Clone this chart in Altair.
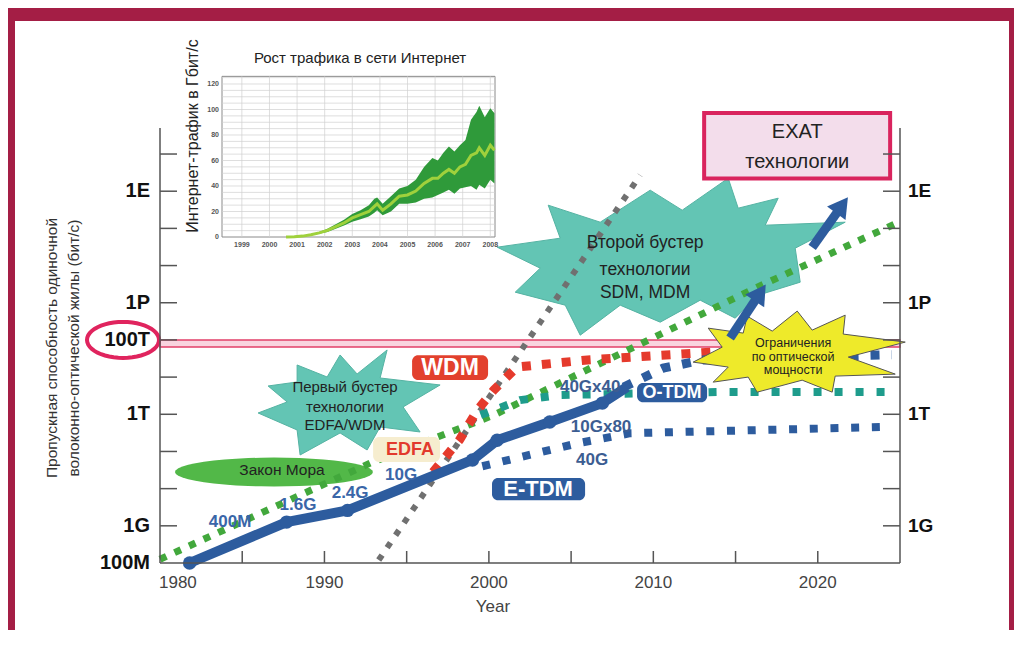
import altair as alt
import pandas as pd

# ---------------- data ----------------
MOORE_YEAR = [1980.0, 1992.8, 2000.3, 2016.3, 2024.8]
MOORE_BPS = [1.26e8, 4.9e10, 9.5e11, 2.6e15, 1.38e17]

ETDM_YEAR = [1981.8, 1987.7, 1991.4, 1999.0, 2000.5, 2003.7, 2006.9, 2008.4]
ETDM_BPS = [1.0e8, 1.26e9, 2.6e9, 5.9e10, 2.0e11, 6.2e11, 2.0e12, 5.4e12]
ETDM_NODE_YEAR = [1981.8, 1987.7, 1991.4, 1999.0, 2000.5, 2003.7, 2006.9]
ETDM_NODE_BPS = [1.0e8, 1.26e9, 2.6e9, 5.9e10, 2.0e11, 6.2e11, 2.0e12]

TDM_YEAR = [1999.6, 2005.5, 2008.6, 2024.5]
TDM_BPS = [4.0e10, 1.7e11, 3.1e11, 4.6e11]

OTDM_YEAR = [2008.2, 2010.6, 2013.0, 2024.5]
OTDM_BPS = [5.4e12, 1.74e13, 2.9e13, 4.0e13]

TEAL_YEAR = [1999.5, 2001.9, 2004.3, 2014.1, 2024.5]
TEAL_BPS = [9.5e11, 2.4e12, 3.3e12, 4.0e12, 4.0e12]

WDM_YEAR = [1996.6, 1998.2, 1999.3, 2000.3, 2001.7, 2006.0, 2013.6]
WDM_BPS = [2.8e10, 2.0e11, 1.3e12, 4.5e12, 1.86e13, 2.9e13, 4.7e13]

GRAY_YEAR = [1993.3, 2009.2]
GRAY_BPS = [1.2e8, 2.7e18]

ARROW_ID = ["a1", "a1", "a2", "a2"]
ARROW_YEAR = [2014.67, 2016.5, 2019.66, 2021.48]
ARROW_BPS = [1.12e14, 1.86e15, 3.09e16, 4.17e17]
HEAD_YEAR = [2016.5, 2021.48]
HEAD_BPS = [1.86e15, 4.17e17]

BAND_YEAR = [1980, 2025]
BAND_BPS = [6.5e13, 1.0e14]

Y_TICKS = [1e9, 1e10, 1e11, 1e12, 1e13, 1e14, 1e15, 1e16, 1e17, 1e18, 1e19]
Y_LEFT_VALUES = [1e8, 1e9, 1e12, 1e14, 1e15, 1e18]
Y_LEFT_LABELS = ["100M", "1G", "1T", "100T", "1P", "1E"]
Y_RIGHT_VALUES = [1e9, 1e12, 1e15, 1e18]
Y_RIGHT_LABELS = ["1G", "1T", "1P", "1E"]
X_TICKS = [1985, 1990, 1995, 2000, 2005, 2010, 2015, 2020]
X_LABELS = [1980, 1990, 2000, 2010, 2020]

BOLD_TEXT = ["400M", "1.6G", "2.4G", "10G", "40Gx40", "10Gx80", "40G",
             "EDFA", "WDM", "O-TDM", "E-TDM"]
BOLD_YEAR = [1984.26, 1988.39, 1991.56, 1994.66, 2006.16, 2006.82, 2006.28,
             1995.2, 1997.64, 2011.14, 2002.99]
BOLD_BPS = [1.26e9, 3.6e9, 7.6e9, 2.3e10, 5.4e12, 4.6e11, 5.9e10,
            1.1e11, 1.74e13, 3.8e12, 9.8e9]
BOLD_COLOR = ["#3A66A8", "#3A66A8", "#3A66A8", "#3A66A8", "#3C5D92", "#3C5D92", "#3C5D92",
              "#E23A2C", "#FFFFFF", "#FFFFFF", "#FFFFFF"]
BOLD_SIZE = [17, 17, 17, 17, 17, 17, 17, 18, 23, 18, 22]

BOX_YEAR0 = [1995.33, 2009.01, 2000.19, 1992.96]
BOX_YEAR1 = [1999.95, 2013.27, 2005.85, 1997.03]
BOX_BPS0 = [8.3e12, 2.1e12, 4.9e9, 5.2e10]
BOX_BPS1 = [3.9e13, 6.9e12, 1.93e10, 2.45e11]
BOX_FILL = ["#E2402D", "#2D5C9E", "#2D5C9E", "#F6EDCF"]

NOTE_TEXT = ["Закон Мора",
             "Первый бустер", "технологии", "EDFA/WDM",
             "Второй бустер", "технологии", "SDM, MDM",
             "Ограничения", "по оптической", "мощности",
             "EXAT", "технологии"]
NOTE_YEAR = [1987.42, 1991.25, 1991.25, 1991.25, 2009.5, 2009.5, 2009.5,
             2018.5, 2018.5, 2018.5, 2018.75, 2018.75]
NOTE_BPS = [3.16e10, 5.4e12, 1.55e12, 5.1e11, 4.0e16, 7.6e15, 1.8e15,
            8.1e13, 3.5e13, 1.55e13, 3.9e19, 6.0e18]
NOTE_SIZE = [15.5, 15, 15, 15, 17.5, 17.5, 17.5, 12.5, 12.5, 12.5, 20, 20]

EXAT_YEAR = [2013.09, 2024.4]
EXAT_BPS = [2.2e18, 1.26e20]

# inset: internet traffic, Gbit/s
INSET_YEAR = [2000.6, 2000.9, 2001.2, 2001.5, 2001.8, 2002.1, 2002.4, 2002.7, 2003.0, 2003.3,
              2003.6, 2003.8, 2003.9, 2004.1, 2004.4, 2004.7, 2005.0, 2005.3, 2005.6, 2005.9,
              2006.1, 2006.3, 2006.5, 2006.7, 2006.9, 2007.1, 2007.3, 2007.5, 2007.6, 2007.8,
              2008.0, 2008.15]
INSET_HIGH = [0, 0.3, 1.0, 2.2, 4, 6.5, 10, 13.5, 18, 21, 25, 30, 31, 26, 32, 38, 40, 45, 55, 62,
              60, 66, 71, 67, 72, 76, 92, 98, 103, 94, 101, 97]
INSET_LOW = [0, 0.1, 0.5, 1.2, 2.5, 4, 6.5, 9, 12, 14, 16, 19, 21, 17, 20, 26, 26, 27, 30, 31,
             33, 35, 37, 34, 38, 39, 40, 37, 41, 38, 45, 42]
INSET_MID = [0, 0.2, 0.7, 1.7, 3.2, 5.2, 8.2, 11, 15, 17.5, 20, 24, 26, 21, 26, 32, 33, 36, 42, 46,
             46, 50, 53, 50, 55, 57, 64, 66, 70, 64, 72, 68]
INSET_X_LABELS = [1999, 2000, 2001, 2002, 2003, 2004, 2005, 2006, 2007, 2008]
INSET_Y_LABELS = [0, 20, 40, 60, 80, 100, 120]
INSET_HGRID = [5, 10, 15, 25, 30, 35, 45, 50, 55, 65, 70, 75, 85, 90, 95, 105, 110, 115, 125]

# ---------------- styles ----------------
NARROW = "Liberation Sans Narrow, Arial Narrow, Liberation Sans, sans-serif"
SANS = "Liberation Sans, Arial, sans-serif"
BLUE = "#2D5C9E"


def poly_path(pts, s):
    return "M" + " L".join(f"{x / s:.3f} {y / s:.3f}" for x, y in pts) + " Z"


def ellipse_path(ry, n=48):
    import math
    pts = [(math.cos(2 * math.pi * k / n), ry * math.sin(2 * math.pi * k / n)) for k in range(n)]
    return "M" + " L".join(f"{x:.3f} {y:.3f}" for x, y in pts) + " Z"


STAR2 = [(-153, -11), (-90, -20), (-102, -53), (-50, -36), (0, -68), (32, -48), (78, -80), (88, -50),
         (128, -60), (115, -33), (195, -36), (145, -10), (150, 24), (108, 37), (85, 60), (50, 42),
         (10, 64), (-30, 47), (-70, 77), (-85, 47), (-135, 34), (-110, 10)]
STAR1 = [(37, -55), (30, -27), (90, -20), (53, 2), (70, 27), (30, 22), (17, 45), (-10, 28), (-50, 50),
         (-53, 25), (-92, 8), (-63, -3), (-82, -19), (-53, -23), (-53, -40), (-23, -28), (-10, -50), (7, -31)]
STAR3 = [(-105, 10), (-76, -5), (-90, -24), (-55, -19), (-51, -36), (-26, -21), (-1, -41), (14, -22),
         (47, -37), (45, -18), (107, -10), (50, 5), (97, 22), (37, 24), (34, 40), (4, 28), (-41, 40),
         (-50, 25), (-85, 30), (-70, 15)]

X = alt.Scale(domain=[1980, 2025], nice=False, zero=False)
Y = alt.Scale(type="log", domain=[1e8, 10 ** 19.7], nice=False)


def XE(f="x"):
    return alt.X(f"{f}:Q", scale=X, axis=None, title=None)


def YE(f="y"):
    return alt.Y(f"{f}:Q", scale=Y, axis=None, title=None)


ONE = pd.DataFrame({"a": [0]})


def series(xs, ys, **extra):
    d = {"x": xs, "y": ys}
    d.update(extra)
    return pd.DataFrame(d)


layers = []
# frame
layers.append(alt.Chart(ONE).mark_rect(fill="white").encode(
    x=alt.value(-145), x2=alt.value(849), y=alt.value(-107), y2=alt.value(512)))
# 100T band
layers.append(alt.Chart(pd.DataFrame({"x": [BAND_YEAR[0]], "x2": [BAND_YEAR[1]],
                                      "y": [BAND_BPS[0]], "y2": [BAND_BPS[1]]}))
              .mark_rect(fill="#F9D4DF", stroke="#E2406A", strokeWidth=1.5)
              .encode(x=XE(), x2="x2:Q", y=YE(), y2="y2:Q"))


# shapes
def shape_layer(x, y, path, size, fill, stroke=None, sw=0):
    kw = dict(shape=path, size=size, filled=True, fill=fill, opacity=1, fillOpacity=1)
    if stroke:
        kw.update(stroke=stroke, strokeWidth=sw)
    else:
        kw.update(strokeWidth=0)
    return alt.Chart(series([x], [y])).mark_point(**kw).encode(x=XE(), y=YE())


layers.append(shape_layer(1986.93, 2.8e10, ellipse_path(0.146), 198 ** 2, "#52B848"))
layers.append(shape_layer(1991.56, 1.78e12, poly_path(STAR1, 100), 200 ** 2, "#63C5B4", "#55B3A3", 1))
layers.append(shape_layer(2009.81, 1.58e16, poly_path(STAR2, 200), 400 ** 2, "#63C5B4", "#55B3A3", 1))


# dotted / solid series
def line(xs, ys, color, width, dash=None):
    kw = dict(color=color, strokeWidth=width)
    if dash:
        kw["strokeDash"] = dash
    return alt.Chart(series(xs, ys)).mark_line(**kw).encode(x=XE(), y=YE())


layers.append(line(GRAY_YEAR, GRAY_BPS, "#707070", 6, [6, 9]))
layers.append(line(MOORE_YEAR, MOORE_BPS, "#42A83C", 7, [7, 9]))
layers.append(line(TEAL_YEAR, TEAL_BPS, "#1E9C8C", 8, [8, 13]))
layers.append(line(WDM_YEAR, WDM_BPS, "#E53A2C", 9, [9, 11]))
layers.append(line(TDM_YEAR, TDM_BPS, BLUE, 8, [8, 12.7]))
layers.append(line(OTDM_YEAR, OTDM_BPS, BLUE, 9, [9, 12]))
layers.append(line(ETDM_YEAR, ETDM_BPS, BLUE, 10))
layers.append(alt.Chart(series(ETDM_NODE_YEAR, ETDM_NODE_BPS)).mark_circle(
    size=180, color=BLUE, opacity=1).encode(x=XE(), y=YE()))

# label boxes
layers.append(alt.Chart(pd.DataFrame({"x": BOX_YEAR0, "x2": BOX_YEAR1, "y": BOX_BPS0,
                                      "y2": BOX_BPS1, "f": BOX_FILL}))
              .mark_rect(cornerRadius=6)
              .encode(x=XE(), x2="x2:Q", y=YE(), y2="y2:Q",
                      fill=alt.Fill("f:N", scale=None)))
# yellow starburst
layers.append(shape_layer(2018.81, 4.7e13, poly_path(STAR3, 110), 220 ** 2, "#EEEA2A", "#555555", 1))
# arrows
layers.append(alt.Chart(series(ARROW_YEAR, ARROW_BPS, id=ARROW_ID)).mark_line(
    color=BLUE, strokeWidth=9).encode(x=XE(), y=YE(), detail="id:N"))
layers.append(alt.Chart(series(HEAD_YEAR[:1], HEAD_BPS[:1])).mark_point(
    shape="triangle-up", size=520, filled=True, color=BLUE, opacity=1, angle=34).encode(x=XE(), y=YE()))
layers.append(alt.Chart(series(HEAD_YEAR[1:], HEAD_BPS[1:])).mark_point(
    shape="triangle-up", size=520, filled=True, color=BLUE, opacity=1, angle=36).encode(x=XE(), y=YE()))
# EXAT box
layers.append(alt.Chart(pd.DataFrame({"x": [EXAT_YEAR[0]], "x2": [EXAT_YEAR[1]],
                                      "y": [EXAT_BPS[0]], "y2": [EXAT_BPS[1]]}))
              .mark_rect(fill="#F3DDEB", stroke="#D9245E", strokeWidth=4)
              .encode(x=XE(), x2="x2:Q", y=YE(), y2="y2:Q"))
# 100T ellipse
layers.append(shape_layer(1977.75, 1e14, ellipse_path(0.5), 72 ** 2, "none", "#E0245E", 4))

# texts
layers.append(alt.Chart(pd.DataFrame({"x": BOLD_YEAR, "y": BOLD_BPS, "t": BOLD_TEXT,
                                      "c": BOLD_COLOR, "s": BOLD_SIZE}))
              .mark_text(font=SANS, fontWeight="bold", baseline="middle")
              .encode(x=XE(), y=YE(), text="t:N", color=alt.Color("c:N", scale=None),
                      size=alt.Size("s:Q", scale=None)))
layers.append(alt.Chart(pd.DataFrame({"x": NOTE_YEAR, "y": NOTE_BPS, "t": NOTE_TEXT, "s": NOTE_SIZE}))
              .mark_text(font=NARROW, baseline="middle", color="#222222")
              .encode(x=XE(), y=YE(), text="t:N", size=alt.Size("s:Q", scale=None)))

# axes (drawn by hand so ticks point inward)
AX = "#555555"
layers.append(alt.Chart(pd.DataFrame({"y": [1e8], "y2": [10 ** 19.7]})).mark_rule(color=AX, strokeWidth=1.5)
              .encode(x=alt.value(0), y=YE(), y2="y2:Q"))
layers.append(alt.Chart(pd.DataFrame({"y": [1e8], "y2": [10 ** 19.7]})).mark_rule(color=AX, strokeWidth=1.5)
              .encode(x=alt.value(740), y=YE(), y2="y2:Q"))
layers.append(alt.Chart(pd.DataFrame({"x": [1980], "x2": [2025]})).mark_rule(color=AX, strokeWidth=1.5)
              .encode(y=alt.value(435), x=XE(), x2="x2:Q"))
ticks = pd.DataFrame({"y": Y_TICKS})
layers.append(alt.Chart(ticks).mark_rule(color=AX, strokeWidth=1.5)
              .encode(y=YE(), x=alt.value(0), x2=alt.value(17)))
layers.append(alt.Chart(ticks).mark_rule(color=AX, strokeWidth=1.5)
              .encode(y=YE(), x=alt.value(723), x2=alt.value(740)))
layers.append(alt.Chart(pd.DataFrame({"x": X_TICKS})).mark_rule(color=AX, strokeWidth=1.5)
              .encode(x=XE(), y=alt.value(423), y2=alt.value(435)))
layers.append(alt.Chart(pd.DataFrame({"y": Y_LEFT_VALUES, "t": Y_LEFT_LABELS}))
              .mark_text(font=SANS, fontWeight="bold", fontSize=20, align="right", baseline="middle",
                         color="#111111")
              .encode(x=alt.value(-10), y=YE(), text="t:N"))
layers.append(alt.Chart(pd.DataFrame({"y": Y_RIGHT_VALUES, "t": Y_RIGHT_LABELS}))
              .mark_text(font=SANS, fontWeight="bold", fontSize=19, align="left", baseline="middle",
                         color="#111111")
              .encode(x=alt.value(748), y=YE(), text="t:N"))
layers.append(alt.Chart(pd.DataFrame({"x": X_LABELS[:1], "t": [str(v) for v in X_LABELS[:1]]}))
              .mark_text(font=SANS, fontSize=17, align="left", baseline="middle", color="#444444", dx=-1)
              .encode(x=XE(), y=alt.value(455), text="t:N"))
layers.append(alt.Chart(pd.DataFrame({"x": X_LABELS[1:], "t": [str(v) for v in X_LABELS[1:]]}))
              .mark_text(font=SANS, fontSize=17, align="center", baseline="middle", color="#444444")
              .encode(x=XE(), y=alt.value(455), text="t:N"))
layers.append(alt.Chart(pd.DataFrame({"x": [2000.25], "t": ["Year"]}))
              .mark_text(font=SANS, fontSize=17, align="center", baseline="middle", color="#444444")
              .encode(x=XE(), y=alt.value(479), text="t:N"))
layers.append(alt.Chart(pd.DataFrame({"t": ["Пропускная способность одиночной",
                                            "волоконно-оптической жилы (бит/с)"],
                                      "px": [-108, -86]}))
              .mark_text(font=NARROW, fontSize=15.5, angle=270, align="center", baseline="middle",
                         color="#333333")
              .encode(x=alt.X("px:Q", scale=None, axis=None), y=alt.value(220), text="t:N"))

main = alt.layer(*layers)

# ---------------- inset ----------------
IX = alt.Scale(domain=[1998.28, 2008.17], range=[62, 335], nice=False, zero=False)
IY = alt.Scale(domain=[0, 126], range=[109, -51.65], nice=False, zero=False)


def IXE(f="x"):
    return alt.X(f"{f}:Q", scale=IX, axis=None, title=None)


def IYE(f="y"):
    return alt.Y(f"{f}:Q", scale=IY, axis=None, title=None)


ins = []
ins.append(alt.Chart(pd.DataFrame({"x": [1998.28], "x2": [2008.17], "y": [0], "y2": [126]}))
           .mark_rect(fill="white", stroke="#8A8A8A", strokeWidth=1)
           .encode(x=IXE(), x2="x2:Q", y=IYE(), y2="y2:Q"))
ins.append(alt.Chart(pd.DataFrame({"y": INSET_HGRID + INSET_Y_LABELS[1:]}))
           .mark_rule(color="#D0D0D0", strokeWidth=0.7)
           .encode(y=IYE(), x=alt.value(62), x2=alt.value(335)))
ins.append(alt.Chart(pd.DataFrame({"x": INSET_X_LABELS}))
           .mark_rule(color="#D0D0D0", strokeWidth=0.7)
           .encode(x=IXE(), y=alt.value(109), y2=alt.value(-51.65)))
idf = pd.DataFrame({"x": INSET_YEAR, "lo": INSET_LOW, "hi": INSET_HIGH, "mid": INSET_MID})
ins.append(alt.Chart(idf).mark_area(color="#2F9A3A", opacity=1, line=False)
           .encode(x=IXE(), y=IYE("lo"), y2="hi:Q"))
ins.append(alt.Chart(idf).mark_line(color="#9FD13C", strokeWidth=3)
           .encode(x=IXE(), y=IYE("mid")))
ins.append(alt.Chart(pd.DataFrame({"y": INSET_Y_LABELS, "t": [str(v) for v in INSET_Y_LABELS]}))
           .mark_text(font=SANS, fontWeight="bold", fontSize=7, align="right", baseline="middle",
                      color="#555555", dx=-3)
           .encode(x=alt.X("x0:Q", scale=IX, axis=None), y=IYE(), text="t:N")
           .transform_calculate(x0="1998.28"))
ins.append(alt.Chart(pd.DataFrame({"x": INSET_X_LABELS, "t": [str(v) for v in INSET_X_LABELS]}))
           .mark_text(font=SANS, fontWeight="bold", fontSize=7, align="center", baseline="top",
                      color="#555555", dy=4)
           .encode(x=IXE(), y=alt.value(109), text="t:N"))
ins.append(alt.Chart(pd.DataFrame({"x": [2003.28], "y": [140.4], "t": ["Рост трафика в сети Интернет"]}))
           .mark_text(font=NARROW, fontSize=15, align="center", baseline="middle", color="#222222")
           .encode(x=IXE(), y=IYE(), text="t:N"))
ins.append(alt.Chart(pd.DataFrame({"x": [1997.23], "y": [79.2], "t": ["Интернет-трафик в Гбит/с"]}))
           .mark_text(font=NARROW, fontSize=16, angle=270, align="center", baseline="middle",
                      color="#222222")
           .encode(x=IXE(), y=IYE(), text="t:N"))
inset = alt.layer(*ins)

chart = (alt.layer(main, inset)
         .resolve_scale(x="independent", y="independent")
         .properties(width=740, height=435,
                     padding={"left": 152, "top": 120, "right": 114, "bottom": 67},
                     autosize=alt.AutoSizeParams(type="none"),
                     background="#A41E45")
         .configure_view(strokeWidth=0))

chart.save("out.html", embed_options={"renderer": "svg", "actions": False})
